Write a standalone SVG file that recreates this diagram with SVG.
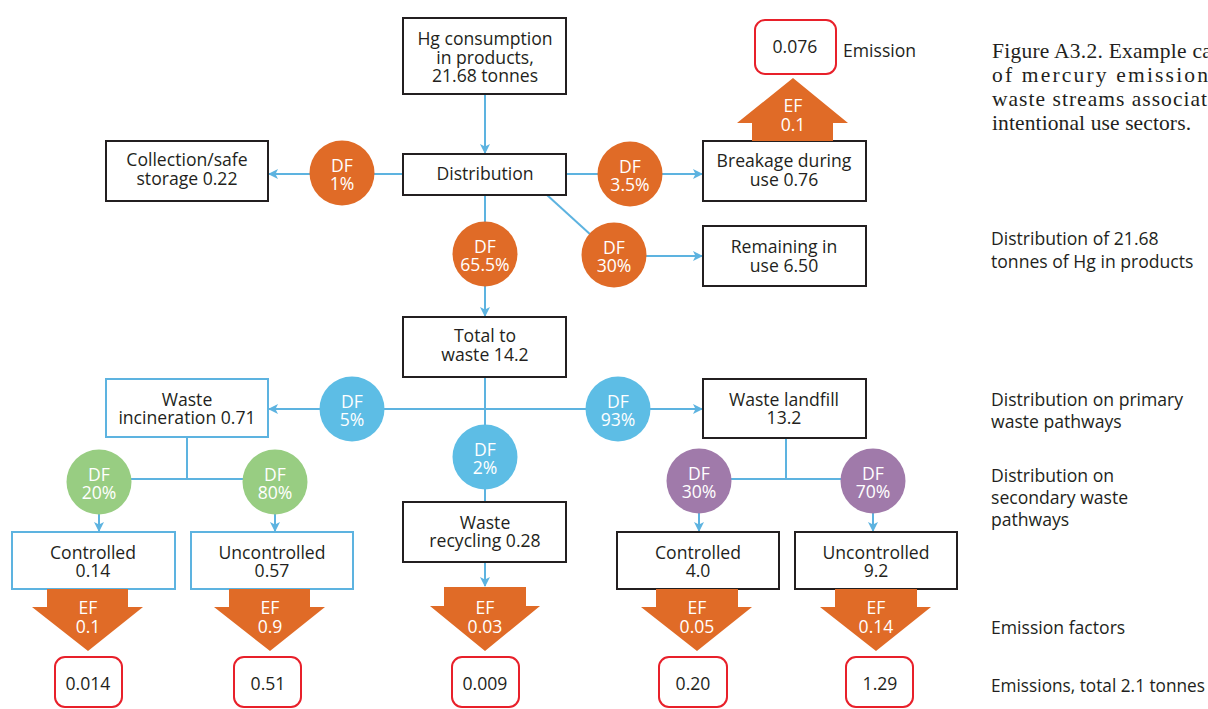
<svg xmlns="http://www.w3.org/2000/svg" width="1208" height="709" viewBox="0 0 1208 709">
<defs>
<marker id="ah" viewBox="0 0 10 10" refX="9" refY="5" markerWidth="5" markerHeight="5" orient="auto" markerUnits="strokeWidth">
<path d="M0,0 L10,5 L0,10 L2.5,5 z" fill="#5DB3E0"/>
</marker>
<style>
text{font-family:"Open Sans","Liberation Sans",sans-serif;font-size:17.6px;fill:#231F20;}
.c{text-anchor:middle;}
.w{fill:#fff;}
.box{fill:#fff;stroke:#231F20;stroke-width:2;}
.bbox{fill:#fff;stroke:#5DB3E0;stroke-width:2;}
.em{fill:#fff;stroke:#E8202A;stroke-width:2;}
.ln{fill:none;stroke:#5DB3E0;stroke-width:2;}
.arr{marker-end:url(#ah);}
.or{fill:#E06B27;}
.bl{fill:#5DBDE5;}
.gr{fill:#98CD82;}
.pu{fill:#A07AAA;}
.ef{fill:#E06B27;}
.cap{font-family:"Liberation Serif",serif;font-size:21.5px;}
</style>
</defs>

<g id="connectors">
<line class="ln arr" x1="485" y1="94" x2="485" y2="153"/>
<line class="ln arr" x1="403" y1="174" x2="269" y2="174"/>
<line class="ln arr" x1="566" y1="174" x2="702" y2="174"/>
<polyline class="ln" points="547,195 614,256"/>
<line class="ln arr" x1="614" y1="256" x2="702" y2="256"/>
<line class="ln arr" x1="485" y1="195" x2="485" y2="316"/>
<line class="ln" x1="485" y1="377" x2="485" y2="502"/>
<line class="ln arr" x1="485" y1="409" x2="269" y2="409"/>
<line class="ln arr" x1="485" y1="409" x2="702" y2="409"/>
<polyline class="ln" points="187,437 187,479"/>
<line class="ln" x1="99" y1="479" x2="275" y2="479"/>
<line class="ln arr" x1="99" y1="500" x2="99" y2="531"/>
<line class="ln arr" x1="275" y1="500" x2="275" y2="531"/>
<polyline class="ln" points="786,438 786,479"/>
<line class="ln" x1="699" y1="479" x2="873" y2="479"/>
<line class="ln arr" x1="699" y1="500" x2="699" y2="531"/>
<line class="ln arr" x1="873" y1="500" x2="873" y2="531"/>
<line class="ln arr" x1="485" y1="562" x2="485" y2="586"/>
</g>

<g id="hg-consumption">
<rect class="box" x="403" y="18" width="163" height="76"/>
<text class="c" x="485" y="45">Hg consumption<tspan x="485" dy="18.5">in products,</tspan><tspan x="485" dy="18.5">21.68 tonnes</tspan></text>
</g>
<g id="distribution">
<rect class="box" x="403" y="154" width="163" height="41"/>
<text class="c" x="485" y="180">Distribution</text>
</g>
<g id="collection">
<rect class="box" x="106" y="141" width="162" height="60"/>
<text class="c" x="187" y="166">Collection/safe<tspan x="187" dy="19">storage 0.22</tspan></text>
</g>
<g id="breakage">
<rect class="box" x="703" y="141" width="163" height="60"/>
<text class="c" x="784" y="167">Breakage during<tspan x="784" dy="18.5">use 0.76</tspan></text>
</g>
<g id="remaining">
<rect class="box" x="703" y="226" width="163" height="60"/>
<text class="c" x="784" y="253">Remaining in<tspan x="784" dy="18.5">use 6.50</tspan></text>
</g>
<g id="ef-breakage">
<polygon class="ef" points="793,78 848,123 833,123 833,141 752,141 752,123 737,123"/>
<text class="c w" x="793" y="112">EF<tspan x="793" dy="19">0.1</tspan></text>
</g>
<g id="emission-breakage">
<rect class="em" x="755" y="20" width="81" height="54" rx="10"/>
<text class="c" x="795" y="53">0.076</text>
<text x="843" y="57">Emission</text>
</g>

<g id="df-1">
<circle class="or" cx="342" cy="173" r="32.5"/>
<text class="c w" x="342" y="172">DF<tspan x="342" dy="18">1%</tspan></text>
</g>
<g id="df-3-5">
<circle class="or" cx="630" cy="174" r="32.5"/>
<text class="c w" x="630" y="173">DF<tspan x="630" dy="18">3.5%</tspan></text>
</g>
<g id="df-65-5">
<circle class="or" cx="485" cy="254" r="32.5"/>
<text class="c w" x="485" y="253">DF<tspan x="485" dy="18">65.5%</tspan></text>
</g>
<g id="df-30">
<circle class="or" cx="614" cy="255" r="32.5"/>
<text class="c w" x="614" y="254">DF<tspan x="614" dy="18">30%</tspan></text>
</g>

<g id="total-waste">
<rect class="box" x="403" y="317" width="163" height="60"/>
<text class="c" x="485" y="342">Total to<tspan x="485" dy="19">waste 14.2</tspan></text>
</g>
<g id="incineration">
<rect class="bbox" x="106" y="379" width="162" height="58"/>
<text class="c" x="187" y="406">Waste<tspan x="187" dy="18">incineration 0.71</tspan></text>
</g>
<g id="landfill">
<rect class="box" x="703" y="379" width="163" height="59"/>
<text class="c" x="784" y="406">Waste landfill<tspan x="784" dy="17.5">13.2</tspan></text>
</g>
<g id="recycling">
<rect class="box" x="403" y="502" width="163" height="60"/>
<text class="c" x="485" y="529">Waste<tspan x="485" dy="18">recycling 0.28</tspan></text>
</g>

<g id="df-5">
<circle class="bl" cx="352" cy="409" r="32.5"/>
<text class="c w" x="352" y="408">DF<tspan x="352" dy="18">5%</tspan></text>
</g>
<g id="df-93">
<circle class="bl" cx="618" cy="409" r="32.5"/>
<text class="c w" x="618" y="408">DF<tspan x="618" dy="18">93%</tspan></text>
</g>
<g id="df-2">
<circle class="bl" cx="485" cy="457" r="32.5"/>
<text class="c w" x="485" y="456">DF<tspan x="485" dy="18">2%</tspan></text>
</g>
<g id="df-20">
<circle class="gr" cx="99" cy="482" r="32.5"/>
<text class="c w" x="99" y="481">DF<tspan x="99" dy="18">20%</tspan></text>
</g>
<g id="df-80">
<circle class="gr" cx="275" cy="482" r="32.5"/>
<text class="c w" x="275" y="481">DF<tspan x="275" dy="18">80%</tspan></text>
</g>
<g id="df-30b">
<circle class="pu" cx="699" cy="481" r="32.5"/>
<text class="c w" x="699" y="480">DF<tspan x="699" dy="18">30%</tspan></text>
</g>
<g id="df-70">
<circle class="pu" cx="873" cy="481" r="32.5"/>
<text class="c w" x="873" y="480">DF<tspan x="873" dy="18">70%</tspan></text>
</g>

<g id="inc-controlled">
<rect class="bbox" x="12" y="532" width="163" height="57"/>
<text class="c" x="93" y="559">Controlled<tspan x="93" dy="18">0.14</tspan></text>
</g>
<g id="inc-uncontrolled">
<rect class="bbox" x="191" y="532" width="162" height="57"/>
<text class="c" x="272" y="559">Uncontrolled<tspan x="272" dy="18">0.57</tspan></text>
</g>
<g id="lf-controlled">
<rect class="box" x="617" y="532" width="162" height="57"/>
<text class="c" x="698" y="559">Controlled<tspan x="698" dy="18">4.0</tspan></text>
</g>
<g id="lf-uncontrolled">
<rect class="box" x="795" y="532" width="162" height="57"/>
<text class="c" x="876" y="559">Uncontrolled<tspan x="876" dy="18">9.2</tspan></text>
</g>

<g id="ef-1">
<polygon class="ef" points="47,589 128,589 128,607 143,607 88,651 32,607 47,607"/>
<text class="c w" x="88" y="614">EF<tspan x="88" dy="19">0.1</tspan></text>
</g>
<g id="ef-2">
<polygon class="ef" points="229,589 310,589 310,607 325,607 270,651 214,607 229,607"/>
<text class="c w" x="270" y="614">EF<tspan x="270" dy="19">0.9</tspan></text>
</g>
<g id="ef-3">
<polygon class="ef" points="444,587 526,587 526,606 540,606 485,651 430,606 444,606"/>
<text class="c w" x="485" y="614">EF<tspan x="485" dy="19">0.03</tspan></text>
</g>
<g id="ef-4">
<polygon class="ef" points="656,589 738,589 738,607 752,607 697,651 641,607 656,607"/>
<text class="c w" x="697" y="614">EF<tspan x="697" dy="19">0.05</tspan></text>
</g>
<g id="ef-5">
<polygon class="ef" points="835,589 917,589 917,607 931,607 876,651 820,607 835,607"/>
<text class="c w" x="876" y="614">EF<tspan x="876" dy="19">0.14</tspan></text>
</g>

<g id="em-1">
<rect class="em" x="55" y="657" width="67" height="50" rx="10"/>
<text class="c" x="88" y="690">0.014</text>
</g>
<g id="em-2">
<rect class="em" x="234" y="657" width="67" height="50" rx="10"/>
<text class="c" x="268" y="690">0.51</text>
</g>
<g id="em-3">
<rect class="em" x="452" y="657" width="67" height="50" rx="10"/>
<text class="c" x="485" y="690">0.009</text>
</g>
<g id="em-4">
<rect class="em" x="659" y="657" width="68" height="50" rx="10"/>
<text class="c" x="693" y="690">0.20</text>
</g>
<g id="em-5">
<rect class="em" x="846" y="657" width="67" height="50" rx="10"/>
<text class="c" x="880" y="690">1.29</text>
</g>

<g id="caption">
<text class="cap" x="992" y="58" textLength="226" lengthAdjust="spacing">Figure A3.2. Example cal</text>
<text class="cap" x="992" y="82" textLength="216" lengthAdjust="spacing">of mercury emission</text>
<text class="cap" x="992" y="106" textLength="215" lengthAdjust="spacing">waste streams associat</text>
<text class="cap" x="992" y="130" textLength="199" lengthAdjust="spacing">intentional use sectors.</text>
</g>
<g id="labels">
<text x="991" y="245">Distribution of 21.68<tspan x="991" dy="23">tonnes of Hg in products</tspan></text>
<text x="991" y="406">Distribution on primary<tspan x="991" dy="22">waste pathways</tspan></text>
<text x="991" y="482">Distribution on<tspan x="991" dy="22">secondary waste</tspan><tspan x="991" dy="22">pathways</tspan></text>
<text x="991" y="634">Emission factors</text>
<text x="991" y="692" textLength="214" lengthAdjust="spacingAndGlyphs">Emissions, total 2.1 tonnes</text>
</g>
</svg>
